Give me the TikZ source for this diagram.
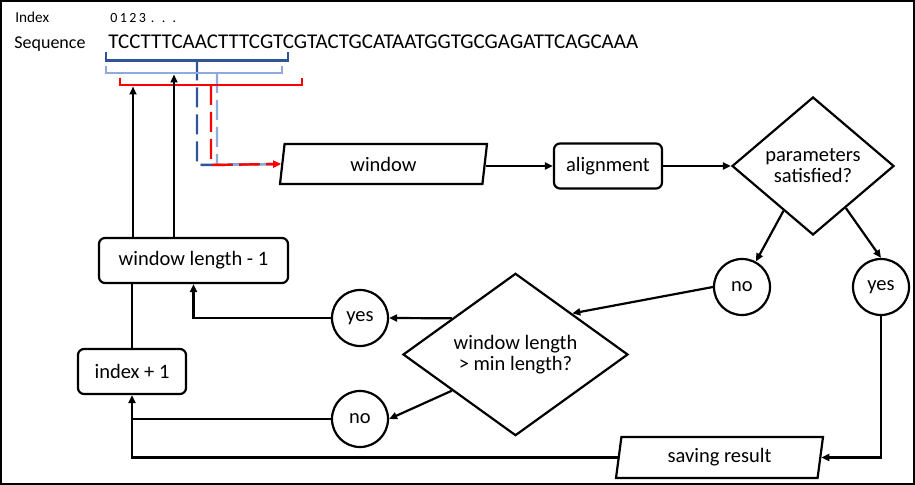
\documentclass[tikz,border=0pt]{standalone}
\usepackage{fontspec}
\setmainfont{Carlito}
\usepackage{xcolor}
\usetikzlibrary{shapes.geometric,arrows.meta,calc}
\definecolor{darkblue}{HTML}{2F5597}
\definecolor{lightblue}{HTML}{8FAADC}
\newcommand{\flowfont}{\fontsize{10.25pt}{10.5pt}\selectfont}
\tikzset{
  box/.style={draw,line width=1.1pt,rounded corners=3pt,minimum height=22.5pt,inner sep=2pt,font=\flowfont},
  para/.style={draw,line width=1.1pt,trapezium,trapezium left angle=76,trapezium right angle=104,
    trapezium stretches body,minimum width=103.5pt,minimum height=20pt,inner sep=1pt,font=\flowfont},
  decision/.style={draw,line width=1.1pt,diamond,inner sep=0pt,align=center,font=\flowfont},
  answer/.style={draw,line width=1.1pt,circle,minimum size=28pt,inner sep=0pt,font=\flowfont},
  flow/.style={line width=1.1pt,-{Triangle[length=4pt,width=3.5pt]}},
  bracket/.style={line width=1.2pt},
  winline/.style={line width=1.2pt,dash pattern=on 10pt off 3.5pt},
  redtip/.style={-{Triangle[length=4pt,width=3.5pt]}},
  notip/.style={}
}

\begin{document}
\begin{tikzpicture}[x=0.5pt,y=-0.5pt]
\useasboundingbox (0,0) rectangle (915,485);
\draw[line width=1.1pt] (1,1) rectangle (914,484);
% ---- SEQUENCE ----
\node[anchor=base west,inner sep=0pt,font=\fontsize{7.6pt}{8pt}\selectfont] (idxlabel) at (15,22.7) {Index};
\node[anchor=base west,inner sep=0pt,font=\fontsize{7pt}{8pt}\selectfont] (numbers) at (110,22.7)
  {0\hspace{1.2pt}1\hspace{1.2pt}2\hspace{1.2pt}3\hspace{2.45pt}.\hspace{3.7pt}.\hspace{3.7pt}.};
\node[anchor=base west,inner sep=0pt,font=\fontsize{9pt}{10pt}\selectfont] (seqlabel) at (14,48.5) {Sequence};
\node[anchor=base west,inner sep=0pt,font=\fontsize{10.5pt}{11pt}\selectfont] (seq) at (108,48.5) {TCCTTTCAACTTTCGTCGTACTGCATAATGGTGCGAGATTCAGCAAA};
% ---- FLOW ----
\node[para] (window) at (383.5,164) {window};
\node[box,minimum width=54pt] (align) at (608,166) {alignment};
\node[decision,minimum width=81pt,minimum height=69pt] (params) at (813,166) {parameters\\satisfied?};
\node[answer] (noR) at (742,287) {no};
\node[answer] (yesR) at (881,287) {yes};
\node[decision,minimum width=112.5pt,minimum height=63.5pt] (check) at (515.5,354.5) {window length\\> min length?};
\node[answer] (yesL) at (360,318) {yes};
\node[answer] (noL) at (360,419) {no};
\node[box,minimum width=94.5pt] (wlbox) at (193.5,260.5) {window length - 1};
\node[box,minimum width=54pt] (idx) at (132,371.5) {index + 1};
\node[para,minimum height=20.5pt] (save) at (719.5,457.5) {saving result};
% ---- WINDOWS ----
\foreach \col/\xl/\xr/\yt/\yb/\xs/\tip in {darkblue/106/288/52/60.5/197/notip,lightblue/106/282/66/73/217/notip,red/120/302/78/85/211/redtip}{
  \draw[bracket,\col] (\xl,\yt) -- (\xl,\yb) -- (\xr,\yb) -- (\xr,\yt);
  \draw[winline,\col,\tip] (\xs,\yb) -- (\xs,165) -- (window.west);}
\coordinate (redup) at (133,86.5);
\coordinate (blueup) at (174,74.5);
\draw[flow] (redup |- wlbox.north) -- (redup);
\draw[flow] (blueup |- wlbox.north) -- (blueup);
% ---- CONNECTORS ----
\draw[flow] (window.east |- align.west) -- (align.west);
\draw[flow] (align.east) -- (params.west);
\draw[flow] ($(params.west)!0.64!(params.south)$) -- (noR);
\draw[flow] ($(params.east)!0.6!(params.south)$) -- (yesR.north);
\draw[flow] (noR.west) -- (check.north east);
\draw[flow] ($(check.west)!0.44!(check.north)$) -- (yesL.east);
\draw[flow] ($(check.west)!0.44!(check.south)$) -- (noL.east);
\draw[flow] (yesL.west) -| (wlbox.south);
\draw[flow] (noL.west) -| (idx.south);
\draw[line width=1.1pt] (idx.north) -- (idx.north |- wlbox.south);
\draw[flow] (yesR.south) |- (save.east);
\draw[line width=1.1pt] (save.west) -| (idx.south |- noL.west);
\end{tikzpicture}
\end{document}
